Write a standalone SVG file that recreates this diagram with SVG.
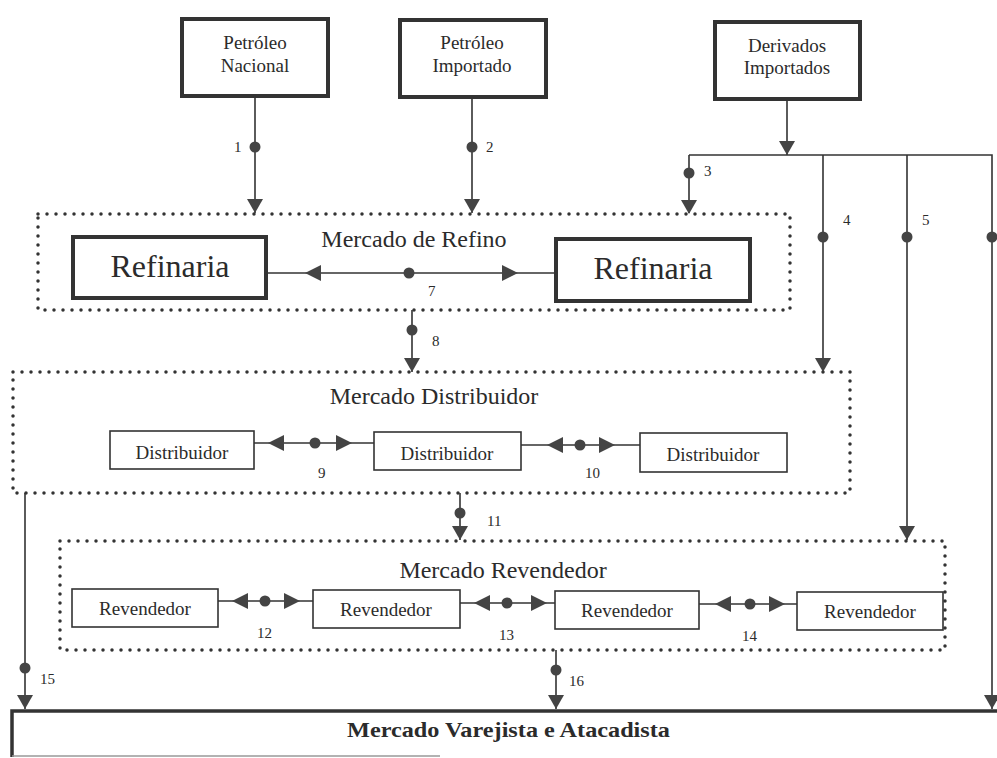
<svg xmlns="http://www.w3.org/2000/svg" xmlns:xlink="http://www.w3.org/1999/xlink" width="997" height="758" viewBox="0 0 997 758">
<style>
text{font-family:"Liberation Serif","Times New Roman",serif;fill:#2b2b2b}
.n{font-size:19px;text-anchor:middle}
.big{font-size:32px;text-anchor:middle}
.mk{font-size:24px;text-anchor:middle}
.lb{font-size:15px}
.thick{fill:#fff;stroke:#333;stroke-width:4}
.thin{fill:#fff;stroke:#333;stroke-width:1.6}
.dot{fill:none;stroke:#333;stroke-width:3.5;stroke-linecap:round;stroke-dasharray:0 9}
.ln{stroke:#333;stroke-width:1.6;fill:none}
.ah{fill:#444}
</style>
<defs>
<path id="ad" d="M-8,-14 L8,-14 L0,0 Z"/>
<path id="al" d="M0,0 L16,-8 L16,8 Z"/>
<path id="ar" d="M0,0 L-16,-8 L-16,8 Z"/>
<circle id="dt" r="5.5"/>
</defs>
<rect width="997" height="758" fill="#fff"/>

<g id="mercado-refino"><rect class="dot" x="38" y="214" width="752" height="96"/><text class="mk" x="414" y="247">Mercado de Refino</text></g>
<g id="mercado-distribuidor"><rect class="dot" x="13" y="372" width="837" height="121"/><text class="mk" x="434" y="404">Mercado Distribuidor</text></g>
<g id="mercado-revendedor"><rect class="dot" x="60" y="541" width="885" height="109"/><text class="mk" x="503" y="578">Mercado Revendedor</text></g>

<g id="connectors">
<g class="ln">
<path d="M255,95 V213"/>
<path d="M472,95 V213"/>
<path d="M787,99 V155"/>
<path d="M689,155 H992 V709"/>
<path d="M689,155 V213"/>
<path d="M823,155 V372"/>
<path d="M907,155 V540"/>
<path d="M267,273 H555"/>
<path d="M412,310 V372"/>
<path d="M254,443 H374"/>
<path d="M521,445 H640"/>
<path d="M460,493 V540"/>
<path d="M218,601 H313"/>
<path d="M460,603 H555"/>
<path d="M699,604 H797"/>
<path d="M25,493 V709"/>
<path d="M556,650 V709"/>
</g>
<g class="ah">
<use xlink:href="#ad" x="255" y="213"/>
<use xlink:href="#ad" x="472" y="213"/>
<use xlink:href="#ad" x="787" y="155"/>
<use xlink:href="#ad" x="689" y="214"/>
<use xlink:href="#ad" x="823" y="372"/>
<use xlink:href="#ad" x="907" y="540"/>
<use xlink:href="#ad" x="992" y="709"/>
<use xlink:href="#ad" x="412" y="372"/>
<use xlink:href="#ad" x="460" y="540"/>
<use xlink:href="#ad" x="25" y="709"/>
<use xlink:href="#ad" x="556" y="709"/>
<use xlink:href="#al" x="305" y="273"/>
<use xlink:href="#ar" x="518" y="273"/>
<use xlink:href="#al" x="268" y="443"/>
<use xlink:href="#ar" x="352" y="443"/>
<use xlink:href="#al" x="547" y="445"/>
<use xlink:href="#ar" x="615" y="445"/>
<use xlink:href="#al" x="232" y="601"/>
<use xlink:href="#ar" x="300" y="601"/>
<use xlink:href="#al" x="474" y="603"/>
<use xlink:href="#ar" x="547" y="603"/>
<use xlink:href="#al" x="715" y="604"/>
<use xlink:href="#ar" x="785" y="604"/>
<use xlink:href="#dt" x="255" y="147"/>
<use xlink:href="#dt" x="472" y="147"/>
<use xlink:href="#dt" x="689" y="173"/>
<use xlink:href="#dt" x="823" y="237"/>
<use xlink:href="#dt" x="907" y="237"/>
<use xlink:href="#dt" x="992" y="237"/>
<use xlink:href="#dt" x="409" y="273"/>
<use xlink:href="#dt" x="412" y="330"/>
<use xlink:href="#dt" x="315" y="443"/>
<use xlink:href="#dt" x="580" y="445"/>
<use xlink:href="#dt" x="460" y="513"/>
<use xlink:href="#dt" x="265" y="601"/>
<use xlink:href="#dt" x="507" y="603"/>
<use xlink:href="#dt" x="750" y="604"/>
<use xlink:href="#dt" x="25" y="668"/>
<use xlink:href="#dt" x="556" y="670"/>
</g>
<g class="lb">
<text x="234" y="152">1</text>
<text x="486" y="152">2</text>
<text x="704" y="176">3</text>
<text x="843" y="225">4</text>
<text x="922" y="225">5</text>
<text x="428" y="296">7</text>
<text x="432" y="346">8</text>
<text x="318" y="478">9</text>
<text x="585" y="478">10</text>
<text x="487" y="526">11</text>
<text x="257" y="638">12</text>
<text x="499" y="640">13</text>
<text x="742" y="641">14</text>
<text x="40" y="684">15</text>
<text x="569" y="686">16</text>
</g>
</g>

<g id="petroleo-nacional"><rect class="thick" x="182" y="19" width="146" height="77"/><text class="n" x="255" y="49">Petróleo</text><text class="n" x="255" y="72">Nacional</text></g>
<g id="petroleo-importado"><rect class="thick" x="400" y="20" width="146" height="77"/><text class="n" x="472" y="49">Petróleo</text><text class="n" x="472" y="72">Importado</text></g>
<g id="derivados-importados"><rect class="thick" x="715" y="22" width="145" height="77"/><text class="n" x="787" y="52">Derivados</text><text class="n" x="787" y="74">Importados</text></g>

<g id="refinaria-1"><rect class="thick" x="73" y="237" width="193" height="61"/><text class="big" x="170" y="277">Refinaria</text></g>
<g id="refinaria-2"><rect class="thick" x="556" y="239" width="194" height="62"/><text class="big" x="653" y="279">Refinaria</text></g>

<g id="distribuidor-1"><rect class="thin" x="110" y="431" width="144" height="38"/><text class="n" x="182" y="459">Distribuidor</text></g>
<g id="distribuidor-2"><rect class="thin" x="374" y="432" width="147" height="38"/><text class="n" x="447" y="460">Distribuidor</text></g>
<g id="distribuidor-3"><rect class="thin" x="640" y="433" width="147" height="39"/><text class="n" x="713" y="461">Distribuidor</text></g>

<g id="revendedor-1"><rect class="thin" x="72" y="589" width="146" height="38"/><text class="n" x="145" y="615">Revendedor</text></g>
<g id="revendedor-2"><rect class="thin" x="313" y="590" width="147" height="38"/><text class="n" x="386" y="616">Revendedor</text></g>
<g id="revendedor-3"><rect class="thin" x="555" y="591" width="144" height="38"/><text class="n" x="627" y="617">Revendedor</text></g>
<g id="revendedor-4"><rect class="thin" x="797" y="592" width="146" height="38"/><text class="n" x="870" y="618">Revendedor</text></g>

<g id="mercado-varejista">
<path d="M12,757 V711 H997" fill="none" stroke="#333" stroke-width="3.5"/>
<path d="M12,756 H440" fill="none" stroke="#999" stroke-width="1.5"/>
<text x="347" y="737" font-size="21" font-weight="bold" textLength="323" lengthAdjust="spacingAndGlyphs">Mercado Varejista e Atacadista</text>
</g>
</svg>
